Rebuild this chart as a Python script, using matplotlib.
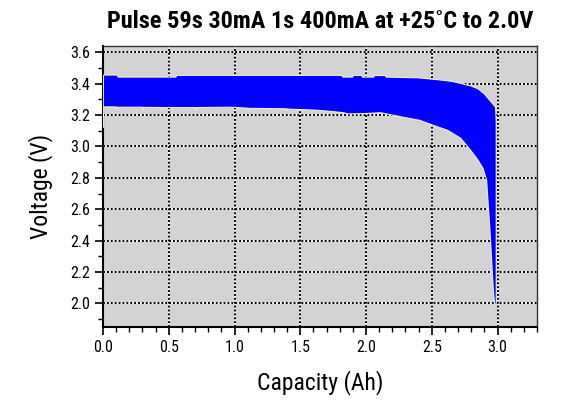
import matplotlib
matplotlib.use("Agg")
import matplotlib.pyplot as plt
from matplotlib.ticker import MultipleLocator, FormatStrFormatter
import numpy as np

# Upper envelope (voltage during 30 mA), capacity (Ah) vs voltage (V)
upper_cap = [0.0, 0.004, 0.11, 0.115, 0.555, 0.56, 1.82, 1.821, 1.90, 1.901, 1.97, 1.971,
             2.06, 2.061, 2.15, 2.151, 2.40, 2.55, 2.65, 2.72, 2.80, 2.85, 2.90, 2.93,
             2.96, 2.985, 2.99, 2.99]
upper_v = [3.12, 3.455, 3.455, 3.442, 3.442, 3.453, 3.453, 3.442, 3.442, 3.453, 3.453, 3.442,
           3.442, 3.452, 3.452, 3.442, 3.437, 3.425, 3.415, 3.402, 3.385, 3.368, 3.335, 3.305,
           3.275, 3.25, 3.15, 2.0]

# Lower envelope (voltage under 400 mA pulse)
lower_cap = [0.004, 0.10, 0.101, 0.106, 0.107, 0.30, 0.301, 0.306, 0.307, 0.45, 0.451, 0.456,
             0.457, 0.70, 0.701, 0.706, 0.707, 0.97, 1.10, 1.101, 1.106, 1.107, 1.40, 1.401,
             1.406, 1.407, 1.60, 1.67, 1.75, 1.83, 1.86, 2.00, 2.11, 2.26, 2.41, 2.51, 2.62,
             2.72, 2.795, 2.85, 2.89, 2.917, 2.927, 2.942, 2.955, 2.968, 2.978]
lower_v = [3.252, 3.252, 3.238, 3.238, 3.250, 3.250, 3.236, 3.236, 3.249, 3.248, 3.234, 3.234,
           3.248, 3.248, 3.234, 3.234, 3.248, 3.250, 3.244, 3.232, 3.232, 3.243, 3.240, 3.228,
           3.228, 3.238, 3.232, 3.228, 3.222, 3.215, 3.207, 3.21, 3.215, 3.19, 3.166, 3.135, 3.103,
           3.052, 2.976, 2.915, 2.86, 2.785, 2.657, 2.468, 2.277, 2.086, 1.99]

title = "Pulse 59s 30mA 1s 400mA at +25\u02daC to 2.0V"
xlabel = "Capacity (Ah)"
ylabel = "Voltage (V)"

plt.rcParams['font.family'] = ['Roboto Condensed', 'DejaVu Sans']

fig = plt.figure(figsize=(5.64, 4.08), dpi=100)
ax = fig.add_axes([103/564, 1-327/408, 434/564, 281/408])
ax.set_facecolor('#d3d3d3')

poly_x = list(upper_cap) + list(lower_cap[::-1])
poly_y = list(upper_v) + list(lower_v[::-1])
ax.fill(poly_x, poly_y, facecolor='#0000ff', edgecolor='#f2f0c8', linewidth=0.8, zorder=3)

ax.set_xlim(0, 3.3)
ax.set_ylim(1.85, 3.64)
ax.xaxis.set_major_locator(MultipleLocator(0.5))
ax.xaxis.set_minor_locator(MultipleLocator(0.1))
ax.yaxis.set_major_locator(MultipleLocator(0.2))
ax.yaxis.set_minor_locator(MultipleLocator(0.1))
ax.xaxis.set_major_formatter(FormatStrFormatter('%.1f'))
ax.yaxis.set_major_formatter(FormatStrFormatter('%.1f'))

ax.set_axisbelow(True)
for xv in np.arange(0.5, 3.3, 0.5):
    ax.axvline(xv, color='white', lw=1.4, zorder=0.3)
for yv in np.arange(2.0, 3.61, 0.2):
    ax.axhline(yv, color='white', lw=1.4, zorder=0.3)
ax.grid(True, which='major', color='black', linestyle=(0, (1, 1)), linewidth=1.4)

ax.tick_params(which='major', direction='out', length=6, width=1.2, labelsize=11.5, colors='black')
ax.tick_params(which='minor', direction='out', length=3.5, width=1.0)
for s in ['left', 'bottom']:
    ax.spines[s].set_linewidth(1.5)
for s in ['top', 'right']:
    ax.spines[s].set_linewidth(1.0)
    ax.spines[s].set_color('#333333')

ax.set_xlabel(xlabel, fontsize=17, labelpad=11)
ax.set_ylabel(ylabel, fontsize=17, labelpad=12)
fig.text(320/564, 1-22/408, title, fontsize=17.5, fontweight='bold', ha='center', va='center')

fig.savefig('out.png', dpi=100)
